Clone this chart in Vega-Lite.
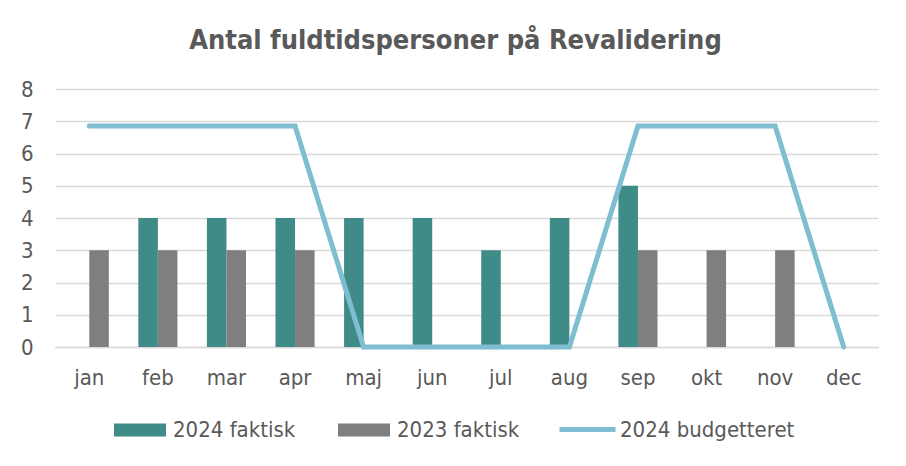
{
  "$schema": "https://vega.github.io/schema/vega-lite/v6.json",
  "width": 823,
  "height": 258,
  "autosize": {"type": "none"},
  "padding": {"left": 55, "top": 89, "right": 28, "bottom": 119},
  "background": "white",
  "title": {
    "text": "Antal fuldtidspersoner på Revalidering",
    "font": "DejaVu Sans Condensed, DejaVu Sans",
    "fontSize": 27,
    "fontWeight": "bold",
    "color": "#595959",
    "anchor": "middle",
    "offset": 23,
    "dx": -11
  },
  "config": {
    "view": {"stroke": null},
    "font": "DejaVu Sans Condensed, DejaVu Sans",
    "axis": {
      "labelFont": "DejaVu Sans Condensed, DejaVu Sans",
      "labelColor": "#595959",
      "labelFontSize": 22,
      "gridColor": "#d9d9d9",
      "gridWidth": 1.5,
      "domainColor": "#d9d9d9",
      "domainWidth": 1.5,
      "ticks": false,
      "title": null
    },
    "legend": {
      "labelFont": "DejaVu Sans Condensed, DejaVu Sans",
      "labelColor": "#595959",
      "labelFontSize": 22,
      "labelLimit": 400
    }
  },
  "datasets": {
    "actual": [
      {"month": "jan", "series": "2023 faktisk", "value": 3},
      {"month": "feb", "series": "2024 faktisk", "value": 4},
      {"month": "feb", "series": "2023 faktisk", "value": 3},
      {"month": "mar", "series": "2024 faktisk", "value": 4},
      {"month": "mar", "series": "2023 faktisk", "value": 3},
      {"month": "apr", "series": "2024 faktisk", "value": 4},
      {"month": "apr", "series": "2023 faktisk", "value": 3},
      {"month": "maj", "series": "2024 faktisk", "value": 4},
      {"month": "jun", "series": "2024 faktisk", "value": 4},
      {"month": "jul", "series": "2024 faktisk", "value": 3},
      {"month": "aug", "series": "2024 faktisk", "value": 4},
      {"month": "sep", "series": "2024 faktisk", "value": 5},
      {"month": "sep", "series": "2023 faktisk", "value": 3},
      {"month": "okt", "series": "2023 faktisk", "value": 3},
      {"month": "nov", "series": "2023 faktisk", "value": 3}
    ],
    "budget": [
      {"month": "jan", "series": "2024 budgetteret", "value": 6.85},
      {"month": "feb", "series": "2024 budgetteret", "value": 6.85},
      {"month": "mar", "series": "2024 budgetteret", "value": 6.85},
      {"month": "apr", "series": "2024 budgetteret", "value": 6.85},
      {"month": "maj", "series": "2024 budgetteret", "value": 0},
      {"month": "jun", "series": "2024 budgetteret", "value": 0},
      {"month": "jul", "series": "2024 budgetteret", "value": 0},
      {"month": "aug", "series": "2024 budgetteret", "value": 0},
      {"month": "sep", "series": "2024 budgetteret", "value": 6.85},
      {"month": "okt", "series": "2024 budgetteret", "value": 6.85},
      {"month": "nov", "series": "2024 budgetteret", "value": 6.85},
      {"month": "dec", "series": "2024 budgetteret", "value": 0}
    ]
  },
  "encoding": {
    "x": {
      "field": "month",
      "type": "nominal",
      "sort": ["jan","feb","mar","apr","maj","jun","jul","aug","sep","okt","nov","dec"],
      "scale": {"domain": ["jan","feb","mar","apr","maj","jun","jul","aug","sep","okt","nov","dec"], "paddingInner": 0.43, "paddingOuter": 0.215},
      "axis": {"labelAngle": 0, "labelPadding": 20, "grid": false}
    },
    "y": {
      "field": "value",
      "type": "quantitative",
      "scale": {"domain": [0, 8], "nice": false},
      "axis": {"values": [0,1,2,3,4,5,6,7,8], "labelPadding": 22, "domain": false}
    }
  },
  "layer": [
    {
      "data": {"name": "actual"},
      "mark": {"type": "bar"},
      "encoding": {
        "xOffset": {"field": "series", "type": "nominal", "scale": {"domain": ["2024 faktisk", "2023 faktisk"], "paddingInner": 0, "paddingOuter": 0}},
        "color": {
          "field": "series",
          "type": "nominal",
          "scale": {"domain": ["2024 faktisk", "2023 faktisk"], "range": ["#3f8b87", "#7f7f7f"]},
          "legend": {
            "orient": "none",
            "direction": "horizontal",
            "legendX": 58,
            "legendY": 314,
            "padding": 0,
            "title": null,
            "symbolType": "M-1,-0.25H1V0.25H-1Z",
            "symbolSize": 2704,
            "symbolOpacity": 1,
            "labelOffset": 6,
            "columnPadding": 41
          }
        }
      }
    },
    {
      "data": {"name": "budget"},
      "mark": {"type": "line", "strokeWidth": 5, "strokeCap": "round", "strokeJoin": "miter"},
      "encoding": {
        "color": {
          "field": "series",
          "type": "nominal",
          "scale": {"domain": ["2024 budgetteret"], "range": ["#7fbdd0"]},
          "legend": {
            "orient": "none",
            "legendX": 502,
            "legendY": 310,
            "padding": 0,
            "title": null,
            "symbolType": "stroke",
            "symbolSize": 3136,
            "symbolStrokeWidth": 5,
            "labelOffset": 2
          }
        }
      }
    }
  ],
  "resolve": {"scale": {"color": "independent"}, "legend": {"color": "independent"}}
}
